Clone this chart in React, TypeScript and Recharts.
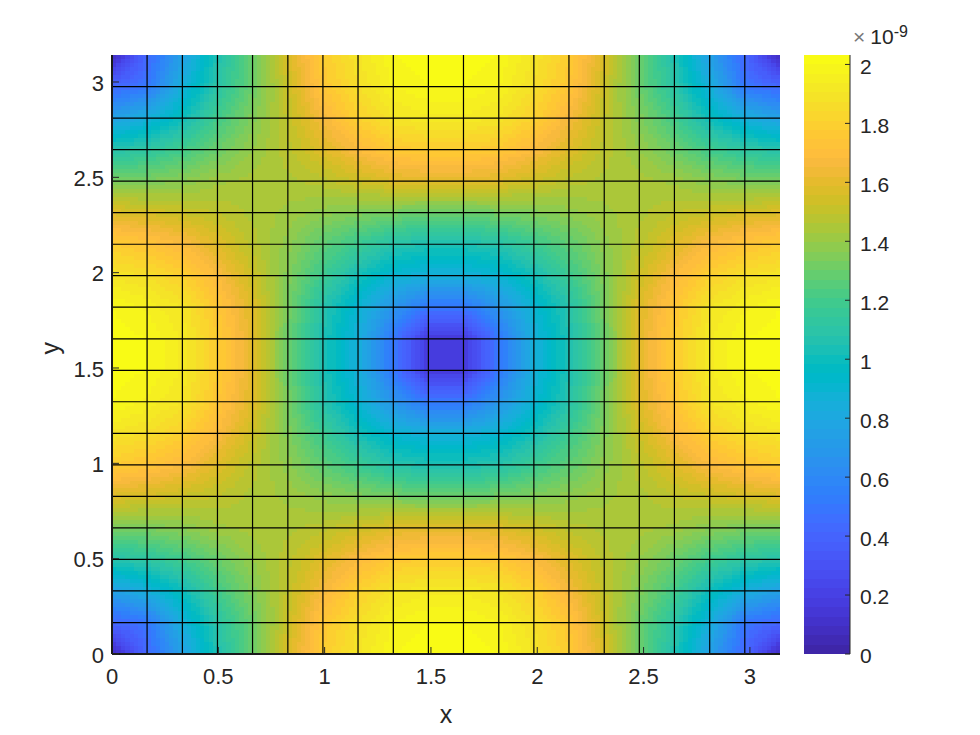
import {
  Bar,
  BarChart,
  ReferenceLine,
  Scatter,
  ScatterChart,
  XAxis,
  YAxis,
} from "recharts";

const xVals = [0, 0.165, 0.331, 0.496, 0.661, 0.827, 0.992, 1.157, 1.323, 1.488, 1.653, 1.819, 1.984, 2.149, 2.315, 2.48, 2.645, 2.811, 2.976, 3.142];
const yVals = [3.142, 2.976, 2.811, 2.645, 2.48, 2.315, 2.149, 1.984, 1.819, 1.653, 1.488, 1.323, 1.157, 0.992, 0.827, 0.661, 0.496, 0.331, 0.165, 0];

// surface height at each mesh vertex, x1e-9, first row is the top of the plot
const zRows = [
  [0.06, 0.42, 0.75, 1.05, 1.3, 1.57, 1.78, 1.9, 2.0, 2.02, 2.02, 2.0, 1.9, 1.78, 1.57, 1.3, 1.05, 0.75, 0.42, 0.06],
  [0.42, 0.5, 0.85, 1.1, 1.3, 1.52, 1.75, 1.87, 1.97, 2.0, 2.0, 1.97, 1.87, 1.75, 1.52, 1.3, 1.1, 0.85, 0.5, 0.42],
  [0.75, 0.85, 1.0, 1.2, 1.35, 1.5, 1.66, 1.8, 1.9, 1.93, 1.93, 1.9, 1.8, 1.66, 1.5, 1.35, 1.2, 1.0, 0.85, 0.75],
  [1.08, 1.12, 1.2, 1.3, 1.4, 1.48, 1.58, 1.68, 1.76, 1.78, 1.78, 1.76, 1.68, 1.58, 1.48, 1.4, 1.3, 1.2, 1.12, 1.08],
  [1.32, 1.34, 1.37, 1.42, 1.44, 1.45, 1.48, 1.53, 1.58, 1.6, 1.6, 1.58, 1.53, 1.48, 1.45, 1.44, 1.42, 1.37, 1.34, 1.32],
  [1.58, 1.55, 1.52, 1.49, 1.45, 1.42, 1.38, 1.35, 1.32, 1.3, 1.3, 1.32, 1.35, 1.38, 1.42, 1.45, 1.49, 1.52, 1.55, 1.58],
  [1.78, 1.74, 1.68, 1.58, 1.48, 1.38, 1.27, 1.18, 1.08, 1.05, 1.05, 1.08, 1.18, 1.27, 1.38, 1.48, 1.58, 1.68, 1.74, 1.78],
  [1.9, 1.87, 1.8, 1.68, 1.53, 1.35, 1.18, 1.02, 0.9, 0.85, 0.85, 0.9, 1.02, 1.18, 1.35, 1.53, 1.68, 1.8, 1.87, 1.9],
  [2.0, 1.96, 1.9, 1.75, 1.58, 1.33, 1.08, 0.9, 0.68, 0.5, 0.5, 0.68, 0.9, 1.08, 1.33, 1.58, 1.75, 1.9, 1.96, 2.0],
  [2.02, 2.0, 1.93, 1.78, 1.6, 1.3, 1.05, 0.85, 0.5, 0.16, 0.16, 0.5, 0.85, 1.05, 1.3, 1.6, 1.78, 1.93, 2.0, 2.02],
  [2.02, 2.0, 1.93, 1.78, 1.6, 1.3, 1.05, 0.85, 0.5, 0.16, 0.16, 0.5, 0.85, 1.05, 1.3, 1.6, 1.78, 1.93, 2.0, 2.02],
  [2.0, 1.96, 1.9, 1.75, 1.58, 1.33, 1.08, 0.9, 0.68, 0.5, 0.5, 0.68, 0.9, 1.08, 1.33, 1.58, 1.75, 1.9, 1.96, 2.0],
  [1.9, 1.87, 1.8, 1.68, 1.53, 1.35, 1.18, 1.02, 0.9, 0.85, 0.85, 0.9, 1.02, 1.18, 1.35, 1.53, 1.68, 1.8, 1.87, 1.9],
  [1.78, 1.74, 1.68, 1.58, 1.48, 1.38, 1.27, 1.18, 1.08, 1.05, 1.05, 1.08, 1.18, 1.27, 1.38, 1.48, 1.58, 1.68, 1.74, 1.78],
  [1.58, 1.55, 1.52, 1.49, 1.45, 1.42, 1.38, 1.35, 1.32, 1.3, 1.3, 1.32, 1.35, 1.38, 1.42, 1.45, 1.49, 1.52, 1.55, 1.58],
  [1.32, 1.34, 1.37, 1.42, 1.44, 1.45, 1.48, 1.53, 1.58, 1.6, 1.6, 1.58, 1.53, 1.48, 1.45, 1.44, 1.42, 1.37, 1.34, 1.32],
  [1.08, 1.12, 1.2, 1.3, 1.4, 1.48, 1.58, 1.68, 1.76, 1.78, 1.78, 1.76, 1.68, 1.58, 1.48, 1.4, 1.3, 1.2, 1.12, 1.08],
  [0.75, 0.85, 1.0, 1.2, 1.35, 1.5, 1.66, 1.8, 1.9, 1.93, 1.93, 1.9, 1.8, 1.66, 1.5, 1.35, 1.2, 1.0, 0.85, 0.75],
  [0.42, 0.5, 0.85, 1.1, 1.3, 1.52, 1.75, 1.87, 1.97, 2.0, 2.0, 1.97, 1.87, 1.75, 1.52, 1.3, 1.1, 0.85, 0.5, 0.42],
  [0.06, 0.42, 0.75, 1.05, 1.3, 1.57, 1.78, 1.9, 2.0, 2.02, 2.02, 2.0, 1.9, 1.78, 1.57, 1.3, 1.05, 0.75, 0.42, 0.06],
];

const axisTicks = [0, 0.5, 1, 1.5, 2, 2.5, 3];
const barTicks = [0, 0.2, 0.4, 0.6, 0.8, 1, 1.2, 1.4, 1.6, 1.8, 2];
const frameCorners = [{ x: 0, y: 0 }, { x: 3.142, y: 3.142 }];

// parula, 64 levels
const parula = [
  [0.2422, 0.1504, 0.6603], [0.2504, 0.165, 0.7076], [0.2578, 0.1818, 0.7511], [0.2647, 0.1978, 0.7952],
  [0.2706, 0.2147, 0.8364], [0.2751, 0.2342, 0.871], [0.2783, 0.2559, 0.8991], [0.2803, 0.2782, 0.9221],
  [0.2813, 0.3006, 0.9414], [0.281, 0.3228, 0.9579], [0.2795, 0.3447, 0.9717], [0.276, 0.3667, 0.9829],
  [0.2699, 0.3892, 0.9906], [0.2602, 0.4123, 0.9952], [0.244, 0.4358, 0.9988], [0.2206, 0.4603, 0.9973],
  [0.1963, 0.4847, 0.9892], [0.1834, 0.5074, 0.9798], [0.1786, 0.5289, 0.9682], [0.1764, 0.5499, 0.952],
  [0.1687, 0.5703, 0.9359], [0.154, 0.5902, 0.9218], [0.146, 0.6091, 0.9079], [0.138, 0.6276, 0.8973],
  [0.1248, 0.6459, 0.8883], [0.1113, 0.6635, 0.8763], [0.0952, 0.6798, 0.8598], [0.0689, 0.6948, 0.8394],
  [0.0297, 0.7082, 0.8163], [0.0036, 0.7203, 0.7917], [0.0067, 0.7312, 0.766], [0.0433, 0.7411, 0.7394],
  [0.0964, 0.75, 0.712], [0.1408, 0.7584, 0.6842], [0.1717, 0.767, 0.6554], [0.1938, 0.7758, 0.6251],
  [0.2161, 0.7843, 0.5923], [0.247, 0.7918, 0.5567], [0.2906, 0.7973, 0.5188], [0.3406, 0.8008, 0.4789],
  [0.3909, 0.8029, 0.4354], [0.4456, 0.8024, 0.3909], [0.5044, 0.7993, 0.348], [0.5616, 0.7942, 0.3045],
  [0.6174, 0.7876, 0.2612], [0.672, 0.7793, 0.2227], [0.7242, 0.7698, 0.191], [0.7738, 0.7598, 0.1646],
  [0.8203, 0.7498, 0.1535], [0.8634, 0.7406, 0.1596], [0.9035, 0.733, 0.1774], [0.9393, 0.7288, 0.21],
  [0.9728, 0.7298, 0.2394], [0.9956, 0.7434, 0.2371], [0.997, 0.7659, 0.2199], [0.9952, 0.7861, 0.1993],
  [0.9892, 0.8135, 0.1884], [0.9786, 0.8386, 0.1766], [0.9676, 0.8639, 0.1643], [0.961, 0.889, 0.1537],
  [0.9597, 0.9135, 0.1423], [0.9628, 0.9373, 0.1265], [0.9691, 0.9606, 0.1064], [0.9769, 0.9839, 0.0805],
].map(([r, g, b]) => `rgb(${Math.round(r * 255)},${Math.round(g * 255)},${Math.round(b * 255)})`);

const Z_MAX = 2.032;
const LEVEL = Z_MAX / parula.length;
const INK = "#262626";
const FONT = "'Liberation Sans', Arial, sans-serif";
const PLOT_W = 668;
const PLOT_H = 599;
const SUB = 8;

const colorOf = (z: number) =>
  parula[Math.max(0, Math.min(parula.length - 1, Math.floor(z / LEVEL)))];

// one point per mesh cell, anchored on its bottom-left vertex
const cells = zRows.slice(1).flatMap((_, r) =>
  xVals.slice(0, -1).map((x, c) => ({ x, y: yVals[r + 1], r: r + 1, c }))
);

const barRow = [Object.fromEntries(parula.map((_, i) => [`l${i}`, LEVEL]))];

// shaded like MATLAB's "shading interp": the cell blends its four corner values
function MeshCell({ cx, cy, payload }: any) {
  const { r, c } = payload;
  const w = PLOT_W / (xVals.length - 1);
  const h = PLOT_H / (yVals.length - 1);
  const tl = zRows[r - 1][c];
  const tr = zRows[r - 1][c + 1];
  const bl = zRows[r][c];
  const br = zRows[r][c + 1];
  const parts = [];
  for (let j = 0; j < SUB; j++) {
    for (let i = 0; i < SUB; i++) {
      const u = (i + 0.5) / SUB;
      const v = (j + 0.5) / SUB;
      const z = (tl * (1 - u) + tr * u) * (1 - v) + (bl * (1 - u) + br * u) * v;
      parts.push(
        <rect
          key={`${i}-${j}`}
          x={cx + (i * w) / SUB}
          y={cy - h + (j * h) / SUB}
          width={w / SUB + 0.6}
          height={h / SUB + 0.6}
          fill={colorOf(z)}
          shapeRendering="crispEdges"
        />
      );
    }
  }
  return <g>{parts}</g>;
}

const NoMark = () => null;
const tickStyle = { fontSize: 22, fill: INK, fontFamily: FONT };
const frameLine = { stroke: "#1a1a1a", strokeWidth: 2 };
const blank = () => "";
const layer = (left: number, top: number) =>
  ({ position: "absolute", left, top, pointerEvents: "none" } as const);

export default function App() {
  return (
    <div style={{ position: "absolute", left: 0, top: 0, width: 980, height: 735, background: "#fff" }}>
      <div style={layer(0, 0)}>
        <ScatterChart width={980} height={735} margin={{ top: 55, right: 200, bottom: 81, left: 112 }}>
          <XAxis hide type="number" dataKey="x" domain={[0, Math.PI]} allowDataOverflow />
          <YAxis hide type="number" dataKey="y" domain={[0, Math.PI]} allowDataOverflow />
          <Scatter data={cells} shape={MeshCell} isAnimationActive={false} />
        </ScatterChart>
      </div>

      {/* mesh lines, frame and ticks sit over the surface */}
      <div style={layer(0, 0)}>
        <ScatterChart width={980} height={735} margin={{ top: 55, right: 200, bottom: 0, left: 0 }}>
          <XAxis
            xAxisId="b"
            type="number"
            dataKey="x"
            domain={[0, Math.PI]}
            ticks={axisTicks}
            allowDataOverflow
            height={81}
            stroke={INK}
            axisLine={frameLine}
            tick={tickStyle}
            tickSize={-7}
            tickMargin={21}
            interval={0}
            label={{ value: "x", position: "insideBottom", offset: 12, fontSize: 25, fill: INK, fontFamily: FONT }}
          />
          <XAxis
            xAxisId="t"
            orientation="top"
            type="number"
            dataKey="x"
            domain={[0, Math.PI]}
            ticks={axisTicks}
            allowDataOverflow
            height={0}
            stroke={INK}
            axisLine={frameLine}
            tick={{ fontSize: 1 }}
            tickFormatter={blank}
            tickSize={-7}
            interval={0}
          />
          <YAxis
            yAxisId="l"
            type="number"
            dataKey="y"
            domain={[0, Math.PI]}
            ticks={axisTicks}
            allowDataOverflow
            width={112}
            stroke={INK}
            axisLine={frameLine}
            tick={{ ...tickStyle, dy: 1 }}
            tickSize={-7}
            tickMargin={15}
            interval={0}
            label={{ value: "y", angle: -90, position: "insideLeft", offset: 50, fontSize: 25, fill: INK, fontFamily: FONT }}
          />
          <YAxis
            yAxisId="r"
            orientation="right"
            type="number"
            dataKey="y"
            domain={[0, Math.PI]}
            ticks={axisTicks}
            allowDataOverflow
            width={0}
            stroke={INK}
            axisLine={frameLine}
            tick={{ fontSize: 1 }}
            tickFormatter={blank}
            tickSize={-7}
            interval={0}
          />
          <Scatter xAxisId="b" yAxisId="l" data={frameCorners} shape={NoMark} isAnimationActive={false} />
          <Scatter xAxisId="t" yAxisId="r" data={frameCorners} shape={NoMark} isAnimationActive={false} />
          {xVals.map((x) => (
            <ReferenceLine key={`x${x}`} xAxisId="b" yAxisId="l" x={x} stroke="#000" strokeWidth={1.2} />
          ))}
          {yVals.map((y) => (
            <ReferenceLine key={`y${y}`} xAxisId="b" yAxisId="l" y={y} stroke="#000" strokeWidth={1.2} />
          ))}
        </ScatterChart>
      </div>

      <div style={layer(804, 55)}>
        <BarChart
          width={46}
          height={599}
          data={barRow}
          barCategoryGap={0}
          margin={{ top: 0, right: 0, bottom: 0, left: 0 }}
        >
          <XAxis hide />
          <YAxis hide type="number" domain={[0, Z_MAX]} allowDataOverflow />
          {parula.map((color, i) => (
            <Bar key={color} dataKey={`l${i}`} stackId="bar" fill={color} isAnimationActive={false} shapeRendering="crispEdges" />
          ))}
        </BarChart>
      </div>

      {/* colorbar frame and ticks */}
      <div style={layer(804, 40)}>
        <ScatterChart width={120} height={630} margin={{ top: 15, right: 0, bottom: 16, left: 0 }}>
          <XAxis xAxisId="b" type="number" dataKey="x" domain={[0, 1]} allowDataOverflow ticks={[]} height={0} stroke={INK} tick={false} />
          <XAxis xAxisId="t" orientation="top" type="number" dataKey="x" domain={[0, 1]} allowDataOverflow ticks={[]} height={0} stroke={INK} tick={false} />
          <YAxis yAxisId="l" type="number" dataKey="y" domain={[0, Z_MAX]} allowDataOverflow ticks={[]} width={0} stroke={INK} tick={false} />
          <YAxis
            yAxisId="r"
            orientation="right"
            type="number"
            dataKey="y"
            domain={[0, Z_MAX]}
            ticks={barTicks}
            allowDataOverflow
            width={74}
            stroke={INK}
            tick={{ ...tickStyle, fontSize: 21, textAnchor: "start", dy: 2 }}
            tickSize={-5}
            tickMargin={15}
            interval={0}
          />
          <Scatter xAxisId="b" yAxisId="l" data={frameCorners} shape={NoMark} isAnimationActive={false} />
          <Scatter xAxisId="t" yAxisId="r" data={frameCorners} shape={NoMark} isAnimationActive={false} />
        </ScatterChart>
      </div>

      <div style={{ position: "absolute", left: 853, top: 25, color: INK, fontFamily: FONT, fontSize: 21, lineHeight: "24px", whiteSpace: "nowrap" }}>
        <span style={{ color: "#777", marginRight: 5 }}>×</span>10<sup style={{ fontSize: 16, lineHeight: 0, verticalAlign: "7px" }}>-9</sup>
      </div>
    </div>
  );
}
